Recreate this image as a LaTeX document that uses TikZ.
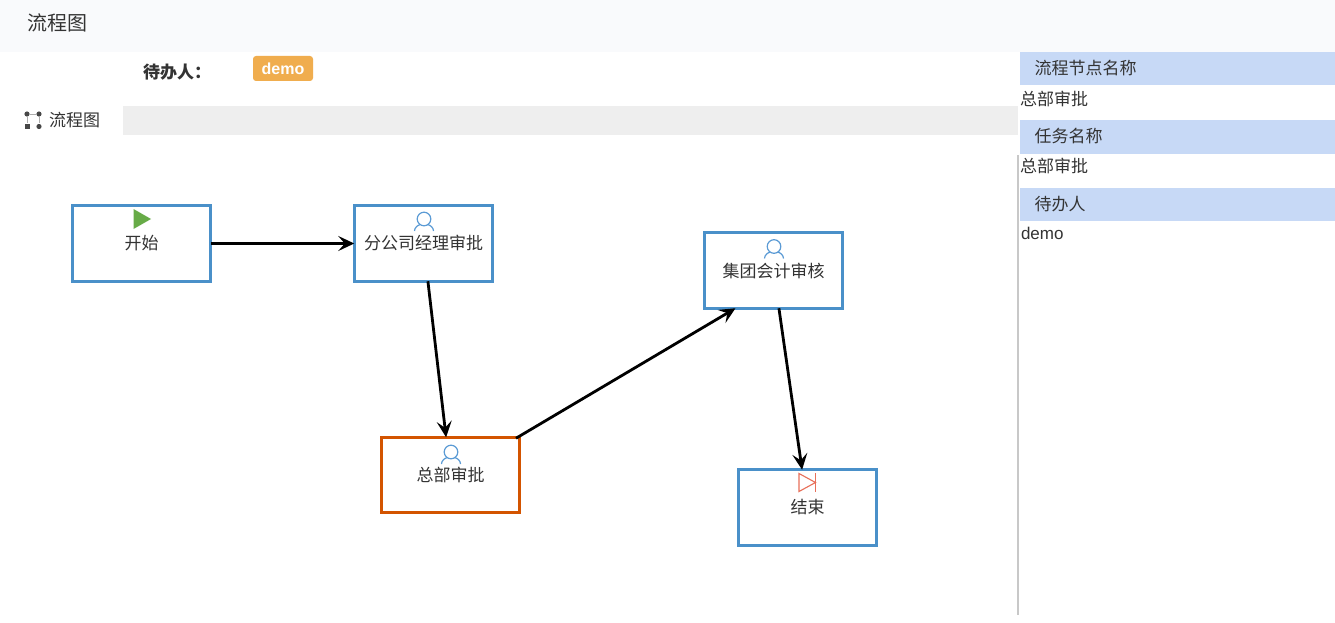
\documentclass[tikz,border=0pt]{standalone}
\usepackage{fontspec}
\setmainfont{Noto Sans CJK SC}
\newfontfamily\latinfont{Liberation Sans}
\usetikzlibrary{arrows.meta,calc}
\definecolor{ink}{HTML}{333333}
\definecolor{headbg}{HTML}{F9FAFC}
\definecolor{stripbg}{HTML}{EEEEEE}
\definecolor{bandbg}{HTML}{C7D9F6}
\definecolor{splitc}{HTML}{C8C8C8}
\definecolor{badgec}{HTML}{F0AD4E}
\definecolor{taskblue}{HTML}{4A90C9}
\definecolor{activeor}{HTML}{D35400}
\definecolor{iconblue}{HTML}{5B9BD5}
\definecolor{playgreen}{HTML}{67AB47}
\definecolor{endred}{HTML}{E8705A}
\tikzset{
  task/.style={draw=taskblue,line width=3pt,fill=white,minimum width=138.5pt,minimum height=75.5pt,
    inner sep=0pt,outer sep=0pt,text=ink,font=\fontsize{17}{20}\selectfont},
  active/.style={task,draw=activeor},
  flow/.style={line width=2.8pt,black,-{Stealth[length=16pt,width=15pt,inset=6.5pt]}},
  band/.style={fill=bandbg,draw=none},
  plain/.style={text=ink,inner sep=0pt,outer sep=0pt,anchor=west,font=\fontsize{17}{20}\selectfont},
  usericon/.pic={
    \draw[iconblue,line width=1.2pt] (0,-7.5) circle (6.8pt);
    \draw[iconblue,line width=1.2pt] (-9.5,4.5) .. controls (-9.5,1) and (-6,-1.5) .. (-4,-1.8);
    \draw[iconblue,line width=1.2pt] (9.5,4.5) .. controls (9.5,1) and (6,-1.5) .. (4,-1.8);
  }
}
\begin{document}
\begin{tikzpicture}[x=1pt,y=-1pt]
\useasboundingbox (0,0) rectangle (1335,623);
\fill[white] (0,0) rectangle (1335,623);
% header
\fill[headbg] (0,0) rectangle (1335,52);
\node[plain,font=\fontsize{20}{24}\selectfont] (title) at (27.5,22.5) {流程图};
% assignee row
\node[plain,font=\bfseries\fontsize{17}{20}\selectfont] (asglabel) at (143,72) {待办人：};
\node[fill=badgec,rounded corners=3pt,minimum width=60pt,minimum height=25pt,inner sep=0pt,
  text=white,font=\latinfont\bfseries\fontsize{16}{19}\selectfont] (badge) at (283,68.5) {demo};
% tab
\fill[stripbg] (123,106) rectangle (1018,135);
\node[plain] (tab) at (49,120.5) {流程图};
\fill[ink!90] (27,114) circle (2.6pt) (39,114) circle (2.6pt) (39,126.5) circle (2.6pt);
\fill[ink!90] (24.5,124) rectangle (29.5,129);
\draw[ink!40,line width=.3pt] (30,114) -- (36,114) (27,117) -- (27,123) (39,117) -- (39,123);
% side panel
\fill[splitc] (1017,155) rectangle (1019,615);
\fill[band] (1020,52) rectangle (1335,85.5);
\fill[band] (1020,120) rectangle (1335,153.5);
\fill[band] (1020,188) rectangle (1335,220.5);
\node[plain] (h1) at (1034.5,68.5) {流程节点名称};
\node[plain] (v1) at (1020,98.5) {总部审批};
\node[plain] (h2) at (1034.5,136) {任务名称};
\node[plain] (v2) at (1020,166) {总部审批};
\node[plain] (h3) at (1034.5,204) {待办人};
\node[plain,font=\latinfont\fontsize{17}{20}\selectfont] (v3) at (1021,233) {demo};
% process nodes
\node[task] (start) at (141.5,243.5) {开始};
\node[task] (branch) at (423.5,243.5) {分公司经理审批};
\node[active] (hq) at (450.5,475) {总部审批};
\node[task] (group) at (773.5,270.5) {集团会计审核};
\node[task] (finish) at (807.5,507.5) {结束};
% icons
\fill[playgreen] (133.5,209) -- (151,219) -- (133.5,229) -- cycle;
\pic at (424,226.5) {usericon};
\pic at (451,459.5) {usericon};
\pic at (774,254) {usericon};
\draw[endred,line width=1.1pt] (799,473.5) -- (815.5,482.5) -- (799,491.5) -- cycle;
\draw[endred,line width=1.4pt] (815.5,473) -- (815.5,492);
% connectors
\draw[flow] (start) -- (branch);
\draw[flow] (branch) -- (hq);
\draw[flow] ($(hq.north)+(65.5,1)$) -- ($(group.south)+(-38,0)$);
\draw[flow] (group) -- (finish);
\end{tikzpicture}
\end{document}
